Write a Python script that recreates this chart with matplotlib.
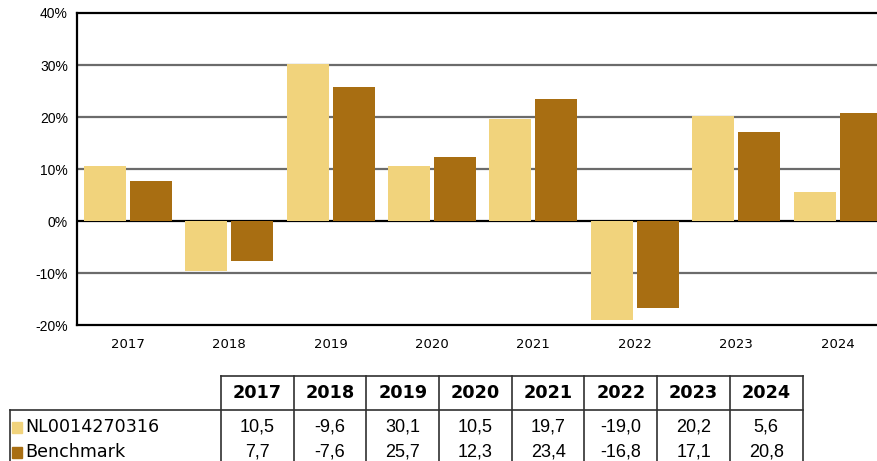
import matplotlib.pyplot as plt
import numpy as np

# Annual returns (%) per year, fund vs. benchmark
years = ['2017', '2018', '2019', '2020', '2021', '2022', '2023', '2024']
fund_name = 'NL0014270316'
bench_name = 'Benchmark'
fund = [10.5, -9.6, 30.1, 10.5, 19.7, -19.0, 20.2, 5.6]
bench = [7.7, -7.6, 25.7, 12.3, 23.4, -16.8, 17.1, 20.8]

light = '#F1D37C'
dark = '#A86E12'

W, H = 878, 461
fig = plt.figure(figsize=(W / 100, H / 100), dpi=100)

# plot area runs past the right edge of the figure
ax = fig.add_axes([77 / W, 1 - 325 / H, 811.4 / W, 312 / H])

x = np.arange(len(years))
bw = 0.414
off = 0.227
ax.bar(x - off, fund, bw, color=light, zorder=3)
ax.bar(x + off, bench, bw, color=dark, zorder=3)

ax.set_xlim(-0.5, len(years) - 0.5)
ax.set_ylim(-20, 40)
yt = np.arange(-20, 41, 10)
ax.set_yticks(yt)
ax.set_yticklabels([f'{v}%' for v in yt], fontfamily='Liberation Sans', fontsize=10)
ax.set_xticks(x)
ax.set_xticklabels(years, fontsize=9.5)
ax.tick_params(axis='y', length=0, pad=6.5)
ax.tick_params(axis='x', length=0, pad=9)

for v in yt[1:-1]:
    ax.axhline(v, color='#000000' if v == 0 else '#6b6b6b', lw=1.6, zorder=1)

for side in ['top', 'left', 'bottom']:
    ax.spines[side].set_color('black')
    ax.spines[side].set_linewidth(1.6)
ax.spines['right'].set_visible(False)

# data table under the chart, pixel layout
def fx(px):
    return px / W

def fy(py):
    return 1 - py / H

col0 = 221
cw = 72.7
ncol = len(years)
head_top, head_bot = 376, 410
row_y = [427, 452]
lc = '#303030'

fig.add_artist(plt.Line2D([fx(col0), fx(col0 + cw * ncol)], [fy(head_top)] * 2, color=lc, lw=1.2))
fig.add_artist(plt.Line2D([fx(10), fx(col0 + cw * ncol)], [fy(head_bot)] * 2, color=lc, lw=1.2))
fig.add_artist(plt.Line2D([fx(10), fx(10)], [fy(head_bot), fy(H + 5)], color=lc, lw=1.2))
for i in range(ncol + 1):
    xx = fx(col0 + cw * i)
    fig.add_artist(plt.Line2D([xx, xx], [fy(head_top), fy(H + 5)], color=lc, lw=1.2))

for i, yr in enumerate(years):
    cx = fx(col0 + cw * (i + 0.5))
    fig.text(cx, fy((head_top + head_bot) / 2), yr, ha='center', va='center',
             fontsize=12.7, fontweight='bold')
    for vals, ry in [(fund, row_y[0]), (bench, row_y[1])]:
        fig.text(cx, fy(ry), f'{vals[i]:.1f}'.replace('.', ','), ha='center', va='center',
                 fontsize=13, fontfamily='Liberation Sans')

for name, col, ry in [(fund_name, light, row_y[0]), (bench_name, dark, row_y[1])]:
    fig.add_artist(plt.Rectangle((fx(12), fy(ry + 6)), 10 / W, 11 / H, color=col))
    fig.text(fx(25), fy(ry), name, ha='left', va='center', fontsize=12.6)

fig.savefig('out.png', dpi=100)
